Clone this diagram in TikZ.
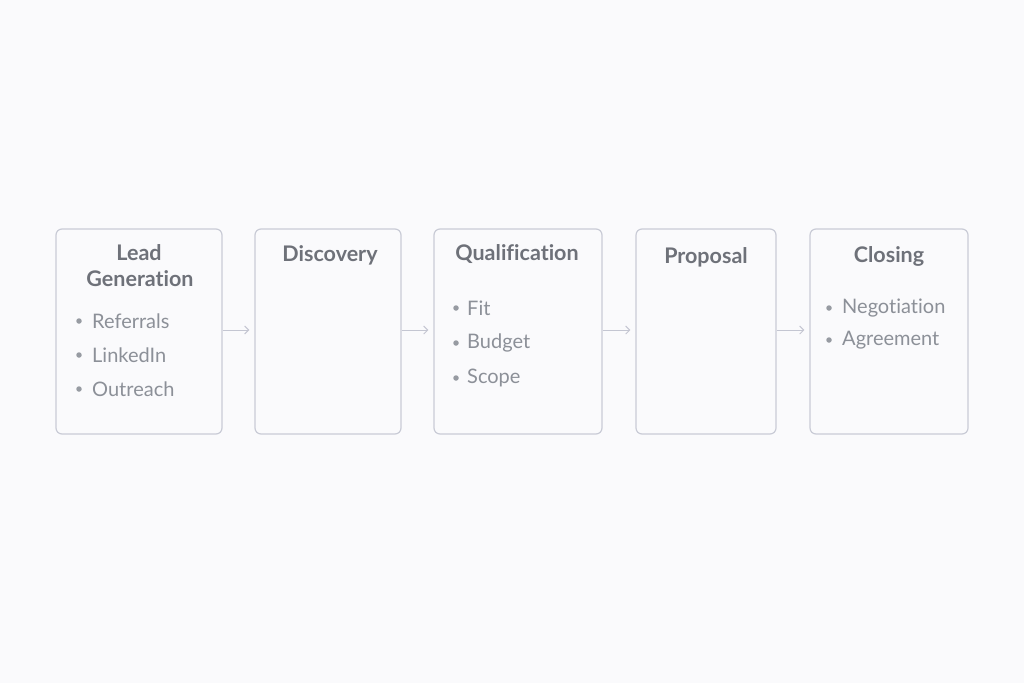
\documentclass[tikz,border=0pt]{standalone}
\usepackage{fontspec}
\setmainfont[Ligatures={NoCommon}]{Lato}
\usetikzlibrary{arrows.meta}
\definecolor{bg}{HTML}{FAFAFC}
\definecolor{boxline}{HTML}{C9CBD6}
\definecolor{titlec}{HTML}{6E7179}
\definecolor{itemc}{HTML}{8C9098}
\definecolor{arrowc}{HTML}{C4C6D2}
\tikzset{
  stagebox/.style={draw=boxline, line width=1.2pt, rounded corners=6pt, fill=bg, inner sep=0pt},
  stagetitle/.style={text=titlec, font=\fontsize{21.5}{26}\selectfont\bfseries, align=center, inner sep=0pt},
  itemtext/.style={text=itemc, font=\fontsize{20}{24}\selectfont, anchor=west, inner sep=0pt},
  bulletdot/.style={circle, fill=itemc!90, inner sep=0pt, minimum size=5.5pt},
  flow/.style={draw=arrowc, line width=1pt, -{Straight Barb[length=4pt,width=8pt]}},
}
\begin{document}
\begin{tikzpicture}[x=1pt,y=-1pt]
\fill[bg] (0,0) rectangle (1024,683);
\useasboundingbox (0,0) rectangle (1024,683);
% boxes
\node[stagebox, minimum width=166pt, minimum height=205pt] (b1) at (139,331.5) {};
\node[stagebox, minimum width=146pt, minimum height=205pt] (b2) at (328,331.5) {};
\node[stagebox, minimum width=168pt, minimum height=205pt] (b3) at (518,331.5) {};
\node[stagebox, minimum width=140pt, minimum height=205pt] (b4) at (706,331.5) {};
\node[stagebox, minimum width=158pt, minimum height=205pt] (b5) at (889,331.5) {};
% titles
\node[stagetitle] (t1a) at (139,253) {Lead};
\node[stagetitle] (t1b) at (140,279) {Generation};
\node[stagetitle] (t2) at (330,255) {Discovery};
\node[stagetitle] (t3) at (517,254) {Qualification};
\node[stagetitle] (t4) at (706,257) {Proposal};
\node[stagetitle] (t5) at (889,256) {Closing};
% items box 1
\node[bulletdot] (d11) at (79,321) {};
\node[itemtext] (i11) at (92,321) {Referrals};
\node[bulletdot] (d12) at (79,355) {};
\node[itemtext] (i12) at (92,355) {LinkedIn};
\node[bulletdot] (d13) at (79,389) {};
\node[itemtext] (i13) at (92,389) {Outreach};
% items box 3
\node[bulletdot] (d31) at (456,308) {};
\node[itemtext] (i31) at (467,308) {Fit};
\node[bulletdot] (d32) at (456,343) {};
\node[itemtext] (i32) at (467,343) {Budget};
\node[bulletdot] (d33) at (456,378) {};
\node[itemtext] (i33) at (467,378) {Scope};
% items box 5
\node[bulletdot] (d51) at (829,308) {};
\node[itemtext] (i51) at (842,308) {Negotiation};
\node[bulletdot] (d52) at (829,340) {};
\node[itemtext] (i52) at (842,340) {Agreement};
% arrows
\draw[flow] (b1.east |- 0,330) -- ([xshift=-5pt]b2.west |- 0,330);
\draw[flow] (b2.east |- 0,330) -- ([xshift=-5pt]b3.west |- 0,330);
\draw[flow] (b3.east |- 0,330) -- ([xshift=-5pt]b4.west |- 0,330);
\draw[flow] (b4.east |- 0,330) -- ([xshift=-5pt]b5.west |- 0,330);
\end{tikzpicture}
\end{document}
